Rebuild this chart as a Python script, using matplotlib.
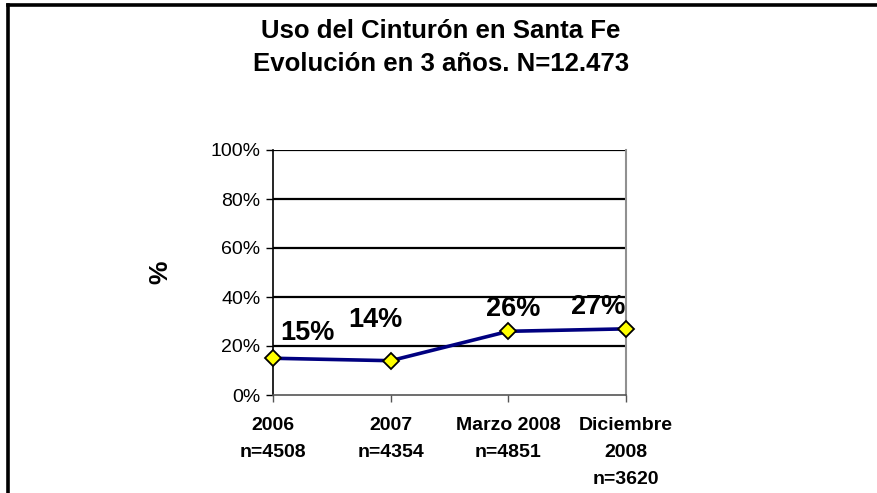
import numpy as np
import matplotlib.pyplot as plt
from matplotlib.lines import Line2D

categorias = ['2006\nn=4508', '2007\nn=4354', 'Marzo 2008\nn=4851', 'Diciembre\n2008\nn=3620']
uso = [15, 14, 26, 27]
etiquetas = ['15%', '14%', '26%', '27%']
# label offsets in pixels (manual placement as in the original)
offsets = [(34, 25), (-15, 41), (5, 22), (-28, 22)]

plt.rcParams['font.family'] = ['Liberation Sans', 'DejaVu Sans']

W, H = 878, 493
fig = plt.figure(figsize=(W / 100, H / 100), dpi=100)
ax = fig.add_axes([273 / W, 1 - 395 / H, (626 - 273) / W, (395 - 150) / H])

x = np.arange(len(uso))
ax.plot(x, uso, color='#000080', lw=2.6, marker='D', ms=8,
        markerfacecolor='#ffff00', markeredgecolor='black', markeredgewidth=1.3,
        zorder=5, clip_on=False)

for xi, yi, t, off in zip(x, uso, etiquetas, offsets):
    ax.annotate(t, (xi, yi), xytext=off, textcoords='offset pixels',
                ha='center', va='center', fontsize=19.5, fontweight='bold', zorder=6)

ax.set_xlim(0, 3)
ax.set_ylim(0, 100)
ax.set_yticks(range(0, 101, 20))
ax.set_yticklabels([f'{v}%' for v in range(0, 101, 20)], fontsize=14)
ax.set_xticks(x)
ax.set_xticklabels(categorias, fontsize=14, fontweight='bold', linespacing=1.75, va='top')
ax.tick_params(axis='y', length=5, width=1, pad=4)
ax.tick_params(axis='x', length=5, width=1, color='#555555', pad=11)

for v in range(20, 101, 20):
    ax.axhline(v, color='black', lw=1.6, zorder=1)

ax.spines['left'].set_color('black')
ax.spines['left'].set_linewidth(1.2)
ax.spines['bottom'].set_color('#555555')
ax.spines['bottom'].set_linewidth(1.2)
ax.spines['right'].set_color('#909090')
ax.spines['right'].set_linewidth(1.5)
ax.spines['top'].set_visible(False)

ax.set_ylabel('%', fontsize=19, fontweight='bold', labelpad=0)
ax.yaxis.set_label_coords((172 - 273) / (626 - 273), 0.5)

fig.text(441 / W, 1 - 31 / H, 'Uso del Cinturón en Santa Fe', ha='center', va='center',
         fontsize=18.5, fontweight='bold')
fig.text(441 / W, 1 - 64 / H, 'Evolución en 3 años. N=12.473', ha='center', va='center',
         fontsize=18.5, fontweight='bold')

# outer frame (top and left only visible)
fig.add_artist(Line2D([8 / W, 1], [1 - 5 / H, 1 - 5 / H], color='black', lw=2.6,
                      transform=fig.transFigure))
fig.add_artist(Line2D([8 / W, 8 / W], [1 - 5 / H, 0], color='black', lw=2.6,
                      transform=fig.transFigure))

fig.savefig('out.png', dpi=100)
